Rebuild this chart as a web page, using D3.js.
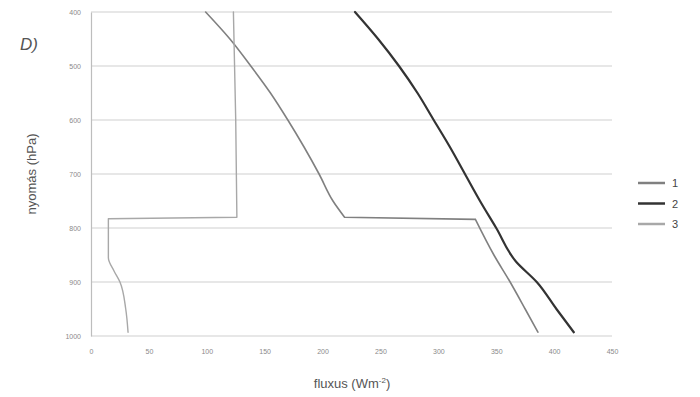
<!DOCTYPE html>
<html>
<head>
<meta charset="utf-8">
<script src="https://cdn.jsdelivr.net/npm/d3@7"></script>
<style>
  body { margin: 0; background: #fff; }
  text { font-family: "Liberation Sans", Arial, sans-serif; }
</style>
</head>
<body>
<svg width="700" height="397"></svg>
<script>
const fluxTicks = [0, 50, 100, 150, 200, 250, 300, 350, 400, 450];
const pressureTicks = [400, 500, 600, 700, 800, 900, 1000];
const seriesNames = ["1", "2", "3"];

// [flux, pressure]
const series1 = [[99, 400], [120, 450], [138, 500], [155, 550], [170, 600], [184, 650], [197, 700], [209, 750],
  [219, 780], [332, 784], [348, 850], [362, 900], [375, 950], [386, 993]];
const series2 = [[228, 400], [248, 450], [266, 500], [282, 550], [296, 600], [310, 650], [323, 700], [336, 750],
  [350, 800], [367, 862], [385, 900], [402, 950], [417, 993]];
const series3 = [[123, 400], [125, 600], [126, 780], [15, 783], [15, 855], [20, 880], [25, 900], [30, 950], [32, 993]];

const colors = ["#808080", "#333333", "#a8a8a8"];
const widths = [1.6, 2.2, 1.4];

const svg = d3.select("svg");
const margin = { top: 12, right: 88, bottom: 61, left: 91 };
const width = +svg.attr("width") - margin.left - margin.right;
const height = +svg.attr("height") - margin.top - margin.bottom;

const g = svg.append("g")
  .attr("transform", `translate(${margin.left},${margin.top})`);

const x = d3.scaleLinear().domain([0, 450]).range([0, width]);
const y = d3.scaleLinear().domain([400, 1000]).range([0, height]);

// gridlines
g.append("g")
  .selectAll("line")
  .data(pressureTicks)
  .join("line")
  .attr("x1", 0)
  .attr("x2", width)
  .attr("y1", d => y(d))
  .attr("y2", d => y(d))
  .attr("stroke", "#cfcfcf")
  .attr("stroke-width", 1.2);

const yAxis = g.append("g")
  .call(d3.axisLeft(y).tickValues(pressureTicks).tickFormat(d3.format("d")).tickSize(0).tickPadding(10));
yAxis.select(".domain").attr("stroke", "#bdbdbd").attr("stroke-width", 1.2);
yAxis.selectAll("text").attr("fill", "#8a8a8a").attr("font-size", 7);

const xAxis = g.append("g")
  .attr("transform", `translate(0,${height})`)
  .call(d3.axisBottom(x).tickValues(fluxTicks).tickSize(0).tickPadding(13));
xAxis.select(".domain").remove();
xAxis.selectAll("text").attr("fill", "#8a8a8a").attr("font-size", 7);

const smooth = d3.line()
  .x(d => x(d[0]))
  .y(d => y(d[1]))
  .curve(d3.curveMonotoneY);

// split a profile at the nearly horizontal jumps so the smooth parts stay smooth
function pieces(s) {
  const out = [];
  let cur = [s[0]];
  for (let i = 1; i < s.length; i++) {
    if (s[i][1] - s[i - 1][1] < 10) {
      out.push(cur);
      out.push([s[i - 1], s[i]]);
      cur = [s[i]];
    } else {
      cur.push(s[i]);
    }
  }
  out.push(cur);
  return out.filter(p => p.length > 1);
}

[series1, series2, series3].forEach((s, i) => {
  const d = pieces(s).map(p => smooth(p)).join("");
  g.append("path")
    .attr("fill", "none")
    .attr("stroke", colors[i])
    .attr("stroke-width", widths[i])
    .attr("stroke-linejoin", "round")
    .attr("stroke-linecap", "round")
    .attr("d", d);
});

// legend
const legend = svg.append("g").attr("transform", "translate(638,183)");
seriesNames.forEach((n, i) => {
  const row = legend.append("g").attr("transform", `translate(0,${i * 20.5})`);
  row.append("line")
    .attr("x1", 0).attr("x2", 27)
    .attr("stroke", colors[i])
    .attr("stroke-width", 2.5);
  row.append("text")
    .attr("x", 34).attr("y", 4)
    .attr("font-size", 11)
    .attr("fill", "#444")
    .text(n);
});

// axis titles
svg.append("text")
  .attr("x", 352)
  .attr("y", 388)
  .attr("text-anchor", "middle")
  .attr("font-size", 13)
  .attr("fill", "#555")
  .html("fluxus (Wm<tspan dy='-5' font-size='8'>-2</tspan><tspan dy='5'>)</tspan>");

svg.append("text")
  .attr("transform", "rotate(-90)")
  .attr("x", -174)
  .attr("y", 36)
  .attr("text-anchor", "middle")
  .attr("font-size", 13)
  .attr("fill", "#555")
  .text("nyomás (hPa)");

svg.append("text")
  .attr("x", 20)
  .attr("y", 50)
  .attr("font-size", 17)
  .attr("font-style", "italic")
  .attr("fill", "#555")
  .text("D)");
</script>
</body>
</html>
